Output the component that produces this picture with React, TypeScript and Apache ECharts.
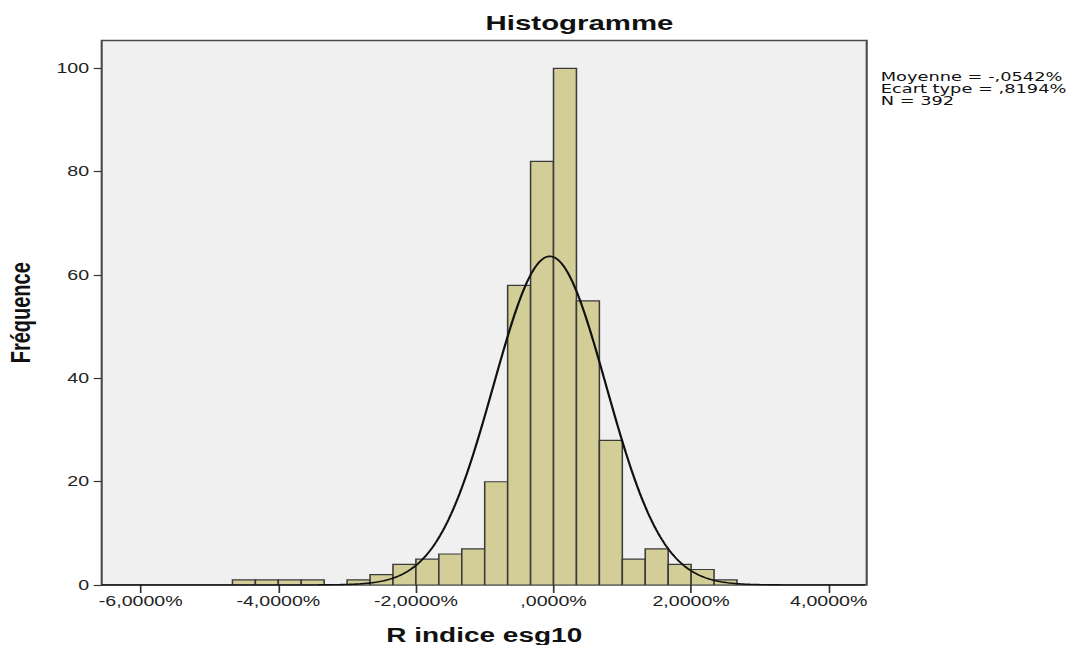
import React, { useEffect, useRef } from "react";
import * as echarts from "echarts";

// ---- data ----
const binWidth = 1 / 3; // %
const firstBinStart = -14 / 3; // %
const binCounts = [1, 1, 1, 1, 0, 1, 2, 4, 5, 6, 7, 20, 58, 82, 100, 55, 28, 5, 7, 4, 3, 1];
const meanPct = -0.0542;
const sdPct = 0.8194;
const nObs = 392;
const xTicks = [-6, -4, -2, 0, 2, 4];
const yTicks = [0, 20, 40, 60, 80, 100];
const statsLines = ["Moyenne = -,0542%", "Ecart type = ,8194%", "N = 392"];
const chartTitle = "Histogramme";
const xTitle = "R indice esg10";
const yTitle = "Fréquence";

// ---- layout ----
const W = 1070;
const H = 645;
const S = 1.4; // horizontal stretch of the reference picture
const X_MIN = -6.567;
const X_MAX = 4.552;
const Y_MAX = 105.4;
const FONT = "'Liberation Sans', Arial, sans-serif";

function fmtPct(v: number): string {
  if (v === 0) return ",0000%";
  return (v < 0 ? "-" : "") + Math.abs(v) + ",0000%";
}

export default function App() {
  const ref = useRef<HTMLDivElement>(null);
  useEffect(() => {
    if (!ref.current) return;
    const chart = echarts.init(ref.current, null, { renderer: "svg" });

    const bins = binCounts
      .map((c, i) => [firstBinStart + i * binWidth, firstBinStart + (i + 1) * binWidth, c])
      .filter((d) => d[2] > 0);

    const curve: number[][] = [];
    const k = (nObs * binWidth) / (sdPct * Math.sqrt(2 * Math.PI));
    for (let x = X_MIN; x <= X_MAX + 1e-9; x += 0.02) {
      const z = (x - meanPct) / sdPct;
      curve.push([x, k * Math.exp(-0.5 * z * z)]);
    }

    const gridLeft = 101.7 / S;
    const gridRight = 866.7 / S;
    const gridTop = 40.5;
    const gridBottom = 585;

    chart.setOption({
      animation: false,
      backgroundColor: "#ffffff",
      title: {
        text: chartTitle,
        left: 572.5 / S,
        top: 7,
        textAlign: "center",
        textStyle: { fontFamily: FONT, fontSize: 21, fontWeight: "bold", color: "#111" },
      },
      grid: {
        left: gridLeft,
        top: gridTop,
        width: gridRight - gridLeft,
        height: gridBottom - gridTop,
        containLabel: false,
        outerBoundsMode: "none",
        show: true,
        backgroundColor: "#f0f0f0",
        borderColor: "#4a4a4a",
        borderWidth: 1.5,
      },
      xAxis: {
        type: "value",
        min: X_MIN,
        max: X_MAX,
        splitLine: { show: false },
        axisLine: { show: false, onZero: false },
        axisTick: {
          show: true,
          customValues: xTicks,
          length: 8,
          lineStyle: { color: "#333", width: 1.2 },
        },
        axisLabel: {
          customValues: xTicks,
          formatter: (v: number) => fmtPct(v),
          fontFamily: FONT,
          fontSize: 14,
          color: "#222",
          margin: 9,
        },
        name: xTitle,
        nameLocation: "middle",
        nameGap: 40,
        nameTextStyle: { fontFamily: FONT, fontSize: 20, fontWeight: "bold", color: "#111" },
      },
      yAxis: {
        type: "value",
        min: 0,
        max: Y_MAX,
        splitLine: { show: false },
        axisLine: { show: false, onZero: false },
        axisTick: {
          show: true,
          customValues: yTicks,
          length: 8 / S,
          lineStyle: { color: "#333", width: 1.2 },
        },
        axisLabel: {
          customValues: yTicks,
          fontFamily: FONT,
          fontSize: 14,
          color: "#222",
          margin: 9,
        },
        name: yTitle,
        nameLocation: "middle",
        nameGap: 48,
        nameRotate: 90,
        nameTextStyle: { fontFamily: FONT, fontSize: 20, fontWeight: "bold", color: "#111" },
      },
      graphic: [
        {
          type: "text",
          left: 880.7 / S,
          top: 71,
          scaleX: 1.06,
          style: {
            text: statsLines.join("\n"),
            fontFamily: "'DejaVu Sans', sans-serif",
            fontSize: 12,
            lineHeight: 12,
            fill: "#111",
          },
        },
      ],
      series: [
        {
          type: "custom",
          data: bins,
          encode: { x: [0, 1], y: 2 },
          clip: true,
          renderItem: (params: any, api: any) => {
            const p0 = api.coord([api.value(0), api.value(2)]);
            const p1 = api.coord([api.value(1), 0]);
            return {
              type: "rect",
              shape: { x: p0[0], y: p0[1], width: p1[0] - p0[0], height: p1[1] - p0[1] },
              style: { fill: "#d3ce97", stroke: "#3a3a3a", lineWidth: 1.1 },
            };
          },
          z: 2,
        },
        {
          type: "line",
          data: curve,
          showSymbol: false,
          symbol: "none",
          clip: true,
          lineStyle: { color: "#111", width: 1.6 },
          z: 3,
        },
      ],
    });
    return () => chart.dispose();
  }, []);

  return (
    <div
      ref={ref}
      style={{
        position: "absolute",
        left: 0,
        top: 0,
        width: W / S,
        height: H,
        transform: `scaleX(${S})`,
        transformOrigin: "0 0",
      }}
    />
  );
}
